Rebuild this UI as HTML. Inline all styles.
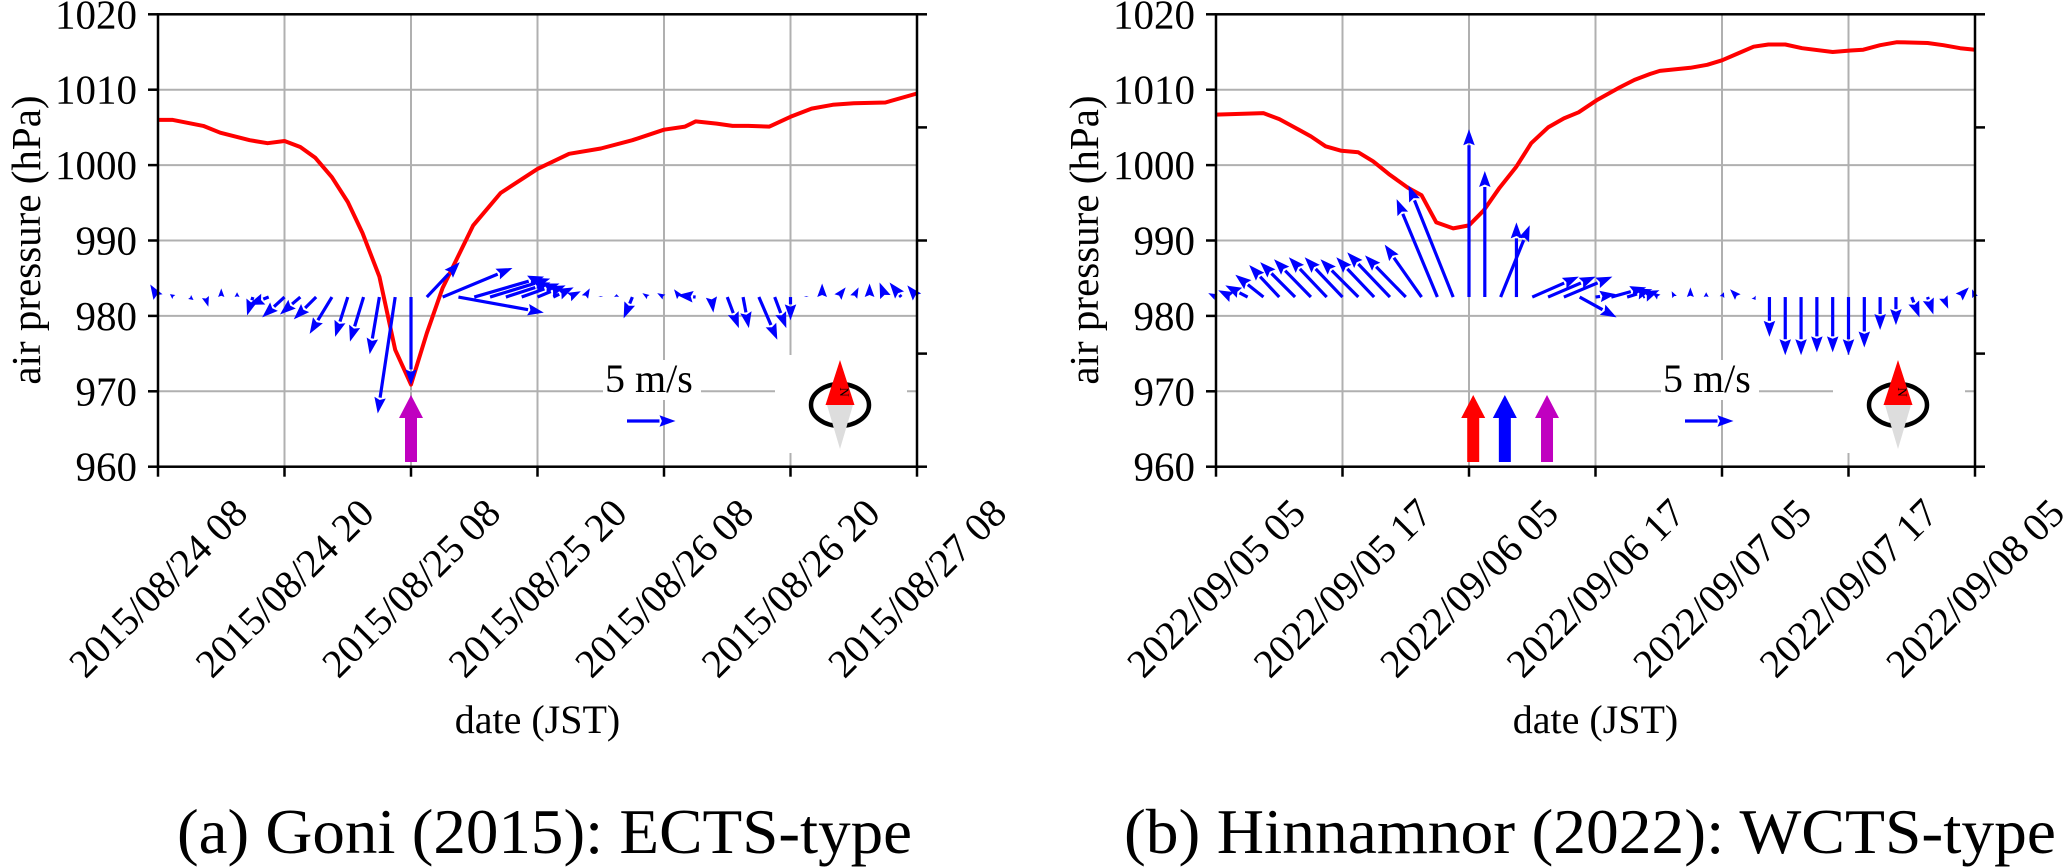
<!DOCTYPE html>
<html>
<head>
<meta charset="utf-8">
<style>
  html,body{margin:0;padding:0;background:#fff;}
  svg{display:block;font-family:"Liberation Serif","Times New Roman",Times,serif;}
  svg text{font-family:"Liberation Serif","Times New Roman",Times,serif;fill:#000;}
</style>
</head>
<body>
<svg id="fig" width="2067" height="868" viewBox="0 0 2067 868" xmlns="http://www.w3.org/2000/svg">
  <g id="panelA"></g>
  <g id="panelB"></g>
  <text x="177" y="853" font-size="64" textLength="735" lengthAdjust="spacingAndGlyphs">(a) Goni (2015): ECTS-type</text>
  <text x="1124" y="853" font-size="64" textLength="932" lengthAdjust="spacingAndGlyphs">(b) Hinnamnor (2022): WCTS-type</text>
</svg>
<script>
// ---------- DATA ----------
const yTicks = [960, 970, 980, 990, 1000, 1010, 1020];
const xTickHoursA = [0, 12, 24, 36, 48, 60, 72];
const xTickLabelsA = ["2015/08/24 08","2015/08/24 20","2015/08/25 08","2015/08/25 20","2015/08/26 08","2015/08/26 20","2015/08/27 08"];
const xTickLabelsB = ["2022/09/05 05","2022/09/05 17","2022/09/06 05","2022/09/06 17","2022/09/07 05","2022/09/07 17","2022/09/08 05"];

const pressHoursA = [0,1.4,4.3,5.9,8.7,10.4,12,13.5,14.9,16.5,18,19.4,21,22.5,24,25.5,27,29.9,32.5,36,39,42,45,48,50,51,53,54.5,56,58,60,62,64,66,69,72];
const pressA = [1006,1006,1005.2,1004.3,1003.3,1002.9,1003.2,1002.4,1001,998.4,995.1,991,985.2,975.5,970.9,977.7,983.7,992,996.3,999.5,1001.5,1002.2,1003.3,1004.7,1005.1,1005.8,1005.5,1005.2,1005.2,1005.1,1006.4,1007.5,1008,1008.2,1008.3,1009.5];

const pressHoursB = [0,4.5,6,7.6,9,10.4,11.9,13.5,14.9,16.4,18.2,19.5,20.9,22.5,24,25.4,26.9,28.5,29.9,31.5,33,34.4,36.1,38.3,39.7,41.2,42.1,45,46.6,48,49.5,51,52.4,54,55.6,58.5,60.2,61.4,63,64.6,67.5,69,70.6,72];
const pressB = [1006.7,1006.9,1006.1,1004.9,1003.8,1002.5,1001.9,1001.7,1000.5,998.8,997,996,992.4,991.6,992,994,997,999.8,1002.9,1005,1006.2,1007,1008.6,1010.3,1011.3,1012.1,1012.5,1012.9,1013.3,1013.9,1014.8,1015.7,1016,1016,1015.5,1015,1015.2,1015.3,1015.9,1016.3,1016.2,1015.9,1015.5,1015.3];

// wind vectors (m/s), every 1.5 h
const windStepHours = 1.5;
const windUA = [-0.8,-0.4,0.4,0.3,0,0,-0.6,-2.1,-2.3,-2.1,-2.3,-2.3,-1.3,-1.4,-1.0,-1.8,0,3.4,7.2,8.8,7.2,6.2,4.6,3.9,2.9,2.1,1.2,0.5,0,0,-0.9,-0.6,-0.7,-0.6,-1.9,0.2,1.2,0.6,1.9,1.2,0,0,0,0.8,0.5,0,-0.6,-1.2,-1.0];
const windVA = [1.3,0.3,-0.3,-1.0,0.9,0.5,-1.9,-0.8,-2.1,-1.8,-2.3,-3.8,-4.1,-4.6,-5.9,-12.0,-9.1,3.6,3.0,-1.6,2.1,1.9,1.5,1.4,1.2,1.0,0.6,0.9,0.1,0.3,-2.2,0.4,0.4,0.8,0.2,-1.6,-3.2,-3.2,-4.4,-3.2,-2.4,0.1,1.4,1.0,1.0,1.4,1.5,1.5,1.2];
const windUB = [-0.8,-1.4,-2.3,-2.9,-3.1,-3.6,-3.8,-3.9,-3.9,-3.9,-3.9,-4.4,-4.2,-3.8,-4.2,-4.6,0,0,3.0,0,4.8,4.9,5.0,3.8,2.1,3.6,2.6,1.7,-0.7,-0.3,0,0,0.2,-0.8,0.2,0,0,0,0,0,0,0,0,0,0.8,0.6,0.5,1.0,-0.3];
const windVB = [0.4,0.7,1.2,2.3,3.3,3.6,3.9,4.1,4.1,3.9,4.1,4.6,4.3,5.4,10.1,11.5,17.3,13.0,7.4,7.7,2.1,2.1,2.1,-2.1,0.3,1.0,0.8,0.7,0.5,0.6,1.0,0.5,0.5,0.8,-0.3,-4.1,-6.0,-6.0,-5.7,-5.7,-6.0,-5.2,-3.4,-2.9,-2.1,-1.8,-1.2,1.0,0.8];
const windBase = 982.5;
const refSpeed = 5;

// marker arrows (hours)
const markerHoursA = [24];
const markerColorsA = ["#c000c0"];
const markerHoursB = [24.4, 27.4, 31.4];
const markerColorsB = ["#ff0000", "#0000ff", "#c000c0"];

// ---------- LAYOUT ----------
const NS = "http://www.w3.org/2000/svg";
const Y0 = 14.3, Y1 = 466.7, PMIN = 960, PMAX = 1020;
const HOURS = 72, PXW = 759;
const PX_PER_MS = 9.7;
function yScale(p){ return Y1 - (p - PMIN) / (PMAX - PMIN) * (Y1 - Y0); }

function mk(tag, attrs, parent){
  const e = document.createElementNS(NS, tag);
  for (const k in attrs) e.setAttribute(k, attrs[k]);
  parent.appendChild(e);
  return e;
}

function drawArrow(g, x, y, dx, dy, name){
  const L = Math.hypot(dx, dy);
  if (L < 0.5){
    const d = mk("circle", {cx:x, cy:y, r:1.5, fill:"#0000ff"}, g);
    
    
    return;
  }
  const ux = dx / L, uy = dy / L;
  const hl = Math.min(16, L), hw = Math.max(hl * 0.36, 2.5);
  const bx = x + dx - ux * hl, by = y + dy - uy * hl;
  const grp = mk("g", {}, g);
  
  
  if (L > hl) mk("line", {x1:x, y1:y, x2:bx, y2:by, stroke:"#0000ff", "stroke-width":3.2}, grp);
  const pts = [[x+dx, y+dy], [bx - uy*hw, by + ux*hw], [bx + ux*hl*0.15, by + uy*hl*0.15], [bx + uy*hw, by - ux*hw]];
  mk("polygon", {points: pts.map(p => p.join(",")).join(" "), fill:"#0000ff"}, grp);
}

function drawPanel(g, X0, tickLabels, pHours, press, wu, wv, mHours, mColors){
  const xScale = h => X0 + h / HOURS * PXW;
  const X1 = X0 + PXW;

  const grid = mk("g", {}, g);
  
  
  xTickHoursA.forEach(h => mk("line", {x1:xScale(h), y1:Y0, x2:xScale(h), y2:Y1, stroke:"#b0b0b0", "stroke-width":2}, grid));
  yTicks.forEach(p => mk("line", {x1:X0, y1:yScale(p), x2:X1, y2:yScale(p), stroke:"#b0b0b0", "stroke-width":2}, grid));

  const lg = mk("g", {}, g);
  
  
  mk("rect", {x:X0+445, y:360, width:98, height:40, fill:"#fff"}, lg);
  const lt = mk("text", {x:X0+447, y:392, "font-size":40}, lg);
  lt.textContent = "5 m/s";
  drawArrow(lg, X0+469, 421, refSpeed * PX_PER_MS, 0, 'reference-arrow-5ms');

  const cg = mk("g", {}, g);
  
  
  const cx = X0 + 682;
  mk("rect", {x:X0+617, y:355, width:132, height:98, fill:"#fff"}, cg);
  mk("ellipse", {cx:cx, cy:405, rx:29, ry:21, fill:"none", stroke:"#000", "stroke-width":4.5}, cg);
  mk("polygon", {points:`${cx},360 ${cx-14.5},405 ${cx+14.5},405`, fill:"#ff0000"}, cg);
  mk("polygon", {points:`${cx},449 ${cx-13},405 ${cx+13},405`, fill:"#dddddd"}, cg);
  const nt = mk("text", {x:0, y:0, "font-size":13, "text-anchor":"middle", transform:`translate(${cx},392) rotate(90)`}, cg);
  nt.textContent = "N";

  const d = pHours.map((h, i) => (i ? "L" : "M") + xScale(h).toFixed(1) + "," + yScale(press[i]).toFixed(1)).join(" ");
  const pl = mk("path", {d:d, fill:"none", stroke:"#ff0000", "stroke-width":4, "stroke-linejoin":"round"}, g);
  
  

  const wg = mk("g", {}, g);
  
  
  const by = yScale(windBase);
  wu.forEach((u, i) => {
    drawArrow(wg, xScale(i * windStepHours), by, u * PX_PER_MS, -wv[i] * PX_PER_MS, 'wind-arrow');
  });

  mHours.forEach((h, i) => {
    const x = xScale(h);
    const m = mk("polygon", {points:`${x},395 ${x-12},418 ${x-6},418 ${x-6},462 ${x+6},462 ${x+6},418 ${x+12},418`, fill:mColors[i]}, g);
    
    
  });

  const ax = mk("g", {}, g);
  
  
  mk("rect", {x:X0, y:Y0, width:PXW, height:Y1-Y0, fill:"none", stroke:"#000", "stroke-width":2.5}, ax);
  yTicks.forEach(p => {
    const y = yScale(p);
    mk("line", {x1:X0-10, y1:y, x2:X0, y2:y, stroke:"#000", "stroke-width":2.5}, ax);
    const t = mk("text", {x:X0-21, y:y+14, "font-size":41, "text-anchor":"end"}, ax);
    
    
    t.textContent = p;
  });
  [Y0, 127.4, 240.5, 353.6, Y1].forEach(y => mk("line", {x1:X1, y1:y, x2:X1+10, y2:y, stroke:"#000", "stroke-width":2.5}, ax));
  xTickHoursA.forEach((h, i) => {
    const x = xScale(h);
    mk("line", {x1:x, y1:Y1, x2:x, y2:Y1+10, stroke:"#000", "stroke-width":2.5}, ax);
    const t = mk("text", {x:0, y:0, "font-size":40, "text-anchor":"middle", "dominant-baseline":"central", transform:`translate(${x},588) rotate(-45)`}, ax);
    
    
    t.textContent = tickLabels[i];
  });
  const yl = mk("text", {x:0, y:0, "font-size":41, "text-anchor":"middle", "dominant-baseline":"central", transform:`translate(${X0-132},240) rotate(-90)`}, g);
  
  
  yl.textContent = "air pressure (hPa)";
  const xl = mk("text", {x:X0 + PXW/2, y:733, "font-size":40, "text-anchor":"middle"}, g);
  
  
  xl.textContent = "date (JST)";
}

drawPanel(document.getElementById("panelA"), 158, xTickLabelsA, pressHoursA, pressA, windUA, windVA, markerHoursA, markerColorsA);
drawPanel(document.getElementById("panelB"), 1216, xTickLabelsB, pressHoursB, pressB, windUB, windVB, markerHoursB, markerColorsB);
</script>
</body>
</html>
